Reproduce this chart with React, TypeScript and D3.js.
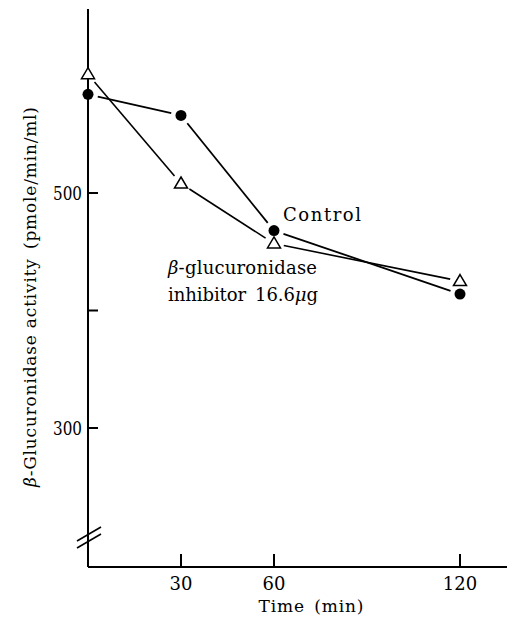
import React from "react";
import * as d3 from "d3";

const times = [0, 30, 60, 120];
const controlValues = [584, 566, 468, 414];
const inhibitorValues = [601, 508, 457, 425];
const yTicks = [300, 400, 500];
const yTickLabels = ["300", "", "500"];
const xTicks = [30, 60, 120];
const xTickLabels = ["30", "60", "120"];

const W = 510;
const H = 626;
const FONT = "'DejaVu Serif', 'Liberation Serif', serif";

export default function App() {
  const x = d3.scaleLinear().domain([0, 120]).range([88, 460]);
  const y = d3.scaleLinear().domain([300, 500]).range([428, 193]);
  const yTop = 9;
  const xAxisY = 567;
  const xEnd = 507;

  const segs = (vals: number[], gap: number) => {
    const pts = times.map((t, i) => [x(t), y(vals[i])]);
    const out: { x1: number; y1: number; x2: number; y2: number }[] = [];
    for (let i = 0; i < pts.length - 1; i++) {
      const [ax, ay] = pts[i];
      const [bx, by] = pts[i + 1];
      const len = Math.hypot(bx - ax, by - ay);
      const ux = (bx - ax) / len;
      const uy = (by - ay) / len;
      out.push({
        x1: ax + ux * gap,
        y1: ay + uy * gap,
        x2: bx - ux * gap,
        y2: by - uy * gap,
      });
    }
    return out;
  };

  const tri = (cx: number, cy: number) => {
    const s = 6.5;
    const h = 11;
    return `M${cx},${cy - h * 0.6} L${cx + s},${cy + h * 0.4} L${cx - s},${cy + h * 0.4} Z`;
  };

  return (
    <svg width={W} height={H} style={{ display: "block", position: "absolute", left: 0, top: 0 }}>
      <rect width={W} height={H} fill="#fff" />
      {/* axes */}
      <line x1={x(0)} y1={yTop} x2={x(0)} y2={xAxisY} stroke="#000" strokeWidth={2} />
      <line x1={x(0)} y1={xAxisY} x2={xEnd} y2={xAxisY} stroke="#000" strokeWidth={2} />
      {/* break marks */}
      <line x1={77} y1={541} x2={101} y2={527} stroke="#000" strokeWidth={1.6} />
      <line x1={77} y1={548} x2={101} y2={534} stroke="#000" strokeWidth={1.6} />
      {/* y ticks */}
      {yTicks.map((t, i) => (
        <g key={"yt" + t}>
          <line x1={x(0)} y1={y(t)} x2={x(0) + 10} y2={y(t)} stroke="#000" strokeWidth={2} />
          {yTickLabels[i] && (
            <text x={82} y={y(t) + 7} textAnchor="end" fontFamily={FONT} fontSize={19} fill="#000" textLength={29} lengthAdjust="spacingAndGlyphs">
              {yTickLabels[i]}
            </text>
          )}
        </g>
      ))}
      {/* x ticks */}
      {xTicks.map((t, i) => (
        <g key={"xt" + t}>
          <line x1={x(t)} y1={xAxisY} x2={x(t)} y2={xAxisY - 13} stroke="#000" strokeWidth={2} />
          <text x={x(t)} y={590} textAnchor="middle" fontFamily={FONT} fontSize={18} fill="#000">
            {xTickLabels[i]}
          </text>
        </g>
      ))}
      {/* axis titles */}
      <text x={311} y={612} textAnchor="middle" fontFamily={FONT} fontSize={17} fill="#000" textLength={105}>
        Time{"\u2002"}(min)
      </text>
      <text
        transform={`translate(36,297) rotate(-90)`}
        textAnchor="middle"
        fontFamily={FONT}
        fontSize={17}
        fill="#000"
        textLength={380}
      >
        <tspan fontStyle="italic">β</tspan>-Glucuronidase activity{"\u2002"}(pmole/min/ml)
      </text>
      {/* lines */}
      {segs(controlValues, 10).map((s, i) => (
        <line key={"cl" + i} {...s} stroke="#000" strokeWidth={1.8} />
      ))}
      {segs(inhibitorValues, 10).map((s, i) => (
        <line key={"il" + i} {...s} stroke="#000" strokeWidth={1.6} />
      ))}
      {/* markers */}
      {times.map((t, i) => (
        <circle key={"c" + i} cx={x(t)} cy={y(controlValues[i])} r={5.5} fill="#000" />
      ))}
      {times.map((t, i) => (
        <path key={"t" + i} d={tri(x(t), y(inhibitorValues[i]))} fill="#fff" stroke="#000" strokeWidth={1.5} />
      ))}
      {/* annotations */}
      <text x={283} y={221} fontFamily={FONT} fontSize={18} fill="#000" textLength={78}>
        Control
      </text>
      <text x={168} y={274} fontFamily={FONT} fontSize={18} fill="#000" textLength={149}>
        <tspan fontStyle="italic">β</tspan>-glucuronidase
      </text>
      <text x={168} y={301} fontFamily={FONT} fontSize={18} fill="#000" textLength={150}>
        inhibitor{"\u2002"}16.6<tspan fontStyle="italic">μ</tspan>g
      </text>
    </svg>
  );
}
